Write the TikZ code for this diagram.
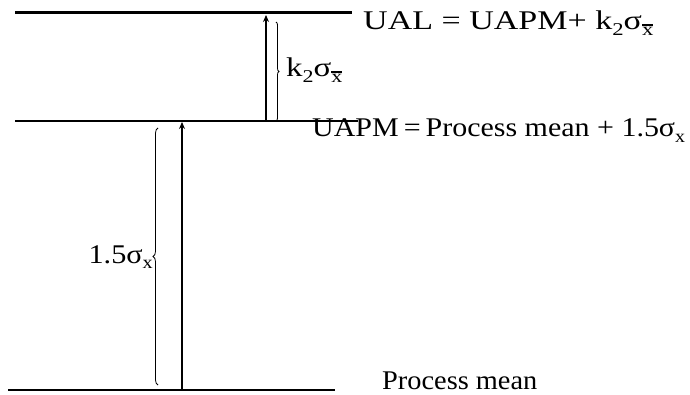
\documentclass[tikz,border=0pt]{standalone}
\usepackage{fontspec}
\usepackage{graphicx}
\setmainfont{Liberation Serif}
\usetikzlibrary{arrows.meta,decorations.pathreplacing}
\newcommand{\mysub}[1]{\raisebox{-0.45ex}{\fontsize{18pt}{18pt}\selectfont #1}}
\newcommand{\xbar}{\begingroup\setbox0\hbox{x}\vbox{\hrule height 1.3pt width \wd0 \kern1.8pt\box0}\endgroup}
\begin{document}
\begin{tikzpicture}[x=1pt,y=-1pt,
  lbl/.style={inner sep=0pt, font=\fontsize{27pt}{30pt}\selectfont},
  level/.style={line width=1.4pt},
  arr/.style={line width=1.2pt,-{Stealth[length=7pt,width=6pt]}},
  brc/.style={line width=0.8pt, decorate, decoration={brace, amplitude=#1}}]
\useasboundingbox (0,0) rectangle (690,395);
\coordinate (t1) at (15,13); \coordinate (t2) at (352,13);
\coordinate (m1) at (15,121); \coordinate (m2) at (358,121);
\coordinate (b1) at (8,390); \coordinate (b2) at (335,390);
\draw[line width=3pt] (t1) -- (t2);
\draw[level] (m1) -- (m2);
\draw[level] (b1) -- (b2);
\coordinate (a1s) at (266,121); \coordinate (a1e) at (266,15);
\draw[arr] (a1s) -- (a1e);
\coordinate (a2s) at (182,390); \coordinate (a2e) at (182,122);
\draw[arr] (a2s) -- (a2e);
\coordinate (br1a) at (276,22); \coordinate (br1b) at (276,121);
\draw[brc=3pt] (br1a) -- (br1b);
\coordinate (br2a) at (158,385); \coordinate (br2b) at (158,128);
\draw[brc=5pt] (br2a) -- (br2b);
\node[lbl, anchor=base west] (ual) at (363,30) {\scalebox{1.26}[1]{UAL = UAPM+ k\mysub{2}σ\mysub{\xbar}}};
\node[lbl, anchor=base west] (kl) at (286,77) {\scalebox{1.22}[1]{k\mysub{2}σ\mysub{\xbar}}};
\node[lbl, anchor=base west] (uapm) at (312,137) {\scalebox{1.11}[1]{UAPM\,=\,Process mean + 1.5σ\mysub{x}}};
\node[lbl, anchor=base east] (sl) at (153,263) {\scalebox{1.12}[1]{1.5σ\mysub{x}}};
\node[lbl, anchor=base west] (pm) at (382,389) {\scalebox{1.05}[1]{Process mean}};
\end{tikzpicture}
\end{document}
